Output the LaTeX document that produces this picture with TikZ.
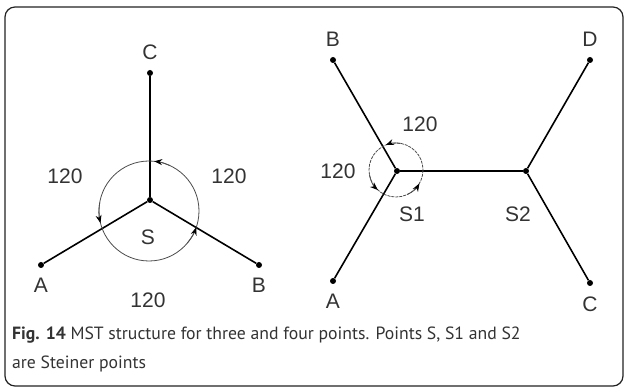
\documentclass[tikz,border=0pt]{standalone}
\usepackage{fontspec}
\setmainfont{Liberation Sans}
\newfontfamily\capfont{PT Sans}
\definecolor{txtgray}{HTML}{333333}
\definecolor{framegray}{HTML}{222222}
\usetikzlibrary{arrows.meta, positioning}

\begin{document}
\begin{tikzpicture}[
    x=1pt, y=-1pt,
    node distance=10pt,
    pt/.style={circle, fill=black, inner sep=0pt, minimum size=6pt},
    lab/.style={inner sep=0pt, text=txtgray,
                font=\fontsize{21}{21}\selectfont},
    edge/.style={line width=1.6pt},
    ring/.style={line width=0.8pt, black!70},
    turn/.style={line width=0.8pt, black!70,
                 -{Stealth[length=8pt, width=6pt, black]}}
  ]
  \useasboundingbox (0,0) rectangle (625,387);
  \draw[framegray, line width=1.2pt, rounded corners=10pt]
    (5,7) rectangle (623,386);

  % three points
  \node[pt] (s) at (150,200) {};
  \node[pt] (c) at (150,73) {};
  \node[pt] (a) at (41,265) {};
  \node[pt] (b) at (259,265) {};
  \draw[edge] (c) -- (s) -- (a);
  \draw[edge] (s) -- (b);
  \coordinate (sc) at (149,211);
  \draw[ring] (sc) circle[radius=50];
  \draw[turn] ([shift={(-65:50)}]sc) arc[start angle=-65, end angle=-84, radius=50];
  \draw[turn] ([shift={(190:50)}]sc) arc[start angle=190, end angle=166, radius=50];
  \draw[turn] ([shift={(40:50)}]sc) arc[start angle=40, end angle=19, radius=50];

  \node[lab, above=of c] (lc) {C};
  \node[lab, below=of a] (la) {A};
  \node[lab, below=of b] (lb) {B};
  \node[lab] (ls) at (148,237) {S};
  \node[lab] (al) at (65,176) {120};
  \node[lab] (ar) at (229,176) {120};
  \node[lab] (ab) at (148,300) {120};

  % four points
  \node[pt] (s1) at (397,171) {};
  \node[pt] (s2) at (526,171) {};
  \node[pt] (b2) at (333,60) {};
  \node[pt] (d2) at (590,60) {};
  \node[pt] (a2) at (333,281) {};
  \node[pt] (c2) at (590,283) {};
  \draw[edge] (b2) -- (s1) -- (a2);
  \draw[edge] (s1) -- (s2);
  \draw[edge] (d2) -- (s2) -- (c2);
  \coordinate (s1c) at (396,170);
  \draw[ring, dash pattern=on 3pt off 1pt] (s1c) circle[radius=27];
  \draw[turn] ([shift={(-80:27)}]s1c) arc[start angle=-80, end angle=-112, radius=27];
  \draw[turn] ([shift={(170:27)}]s1c) arc[start angle=170, end angle=132, radius=27];
  \draw[turn] ([shift={(65:27)}]s1c) arc[start angle=65, end angle=30, radius=27];

  \node[lab, above=of b2] (lb2) {B};
  \node[lab, above=of d2] (ld2) {D};
  \node[lab, below=of a2] (la2) {A};
  \node[lab, below=of c2] (lc2) {C};
  \node[lab] (ls1) at (412,214) {S1};
  \node[lab] (ls2) at (518,214) {S2};
  \node[lab] (a1t) at (420,124) {120};
  \node[lab] (a1l) at (338,171) {120};

  % caption
  \node[anchor=north west, align=left, inner sep=0pt, text=txtgray,
        font=\capfont\fontsize{17.7}{29}\selectfont] (cap) at (12,327)
    {\textbf{Fig. 14} MST structure for three and four points. Points S, S1 and S2\\
     are Steiner points};
\end{tikzpicture}
\end{document}
